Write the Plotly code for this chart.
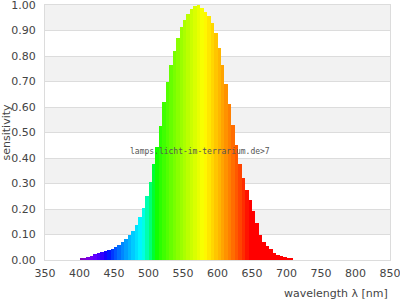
import plotly.graph_objects as go

# wavelength (nm) and relative sensitivity
wavelengths = [400, 405, 410, 415, 420, 425, 430, 435, 440, 445,
               450, 455, 460, 465, 470, 475, 480, 485, 490, 495,
               500, 505, 510, 515, 520, 525, 530, 535, 540, 545,
               550, 555, 560, 565, 570, 575, 580, 585, 590, 595,
               600, 605, 610, 615, 620, 625, 630, 635, 640, 645,
               650, 655, 660, 665, 670, 675, 680, 685, 690, 695,
               700, 705]
sensitivity = [0.004, 0.007, 0.011, 0.017, 0.022, 0.026, 0.030, 0.035, 0.040, 0.045,
               0.051, 0.059, 0.069, 0.082, 0.098, 0.115, 0.138, 0.168, 0.205, 0.250,
               0.305, 0.375, 0.445, 0.525, 0.620, 0.700, 0.765, 0.820, 0.870, 0.912,
               0.942, 0.966, 0.985, 0.997, 1.000, 0.990, 0.972, 0.955, 0.930, 0.890,
               0.830, 0.765, 0.690, 0.610, 0.530, 0.450, 0.375, 0.320, 0.275, 0.235,
               0.192, 0.145, 0.100, 0.072, 0.055, 0.042, 0.029, 0.021, 0.015, 0.010,
               0.007, 0.004]

x_ticks = [350, 400, 450, 500, 550, 600, 650, 700, 750, 800, 850]
y_ticks = [0.0, 0.1, 0.2, 0.3, 0.4, 0.5, 0.6, 0.7, 0.8, 0.9, 1.0]
y_tick_labels = ["0.00", "0.10", "0.20", "0.30", "0.40", "0.50",
                 "0.60", "0.70", "0.80", "0.90", "1.00"]
watermark = "lamps.licht-im-terrarium.de>7"
x_title = "wavelength λ [nm]"
y_title = "sensitivity"


def wl_color(w):
    # spectral colour for a wavelength (style only)
    w = w + 2.5
    if w < 440:
        r, g, b = -(w - 440) / 60.0, 0.0, 1.0
    elif w < 490:
        r, g, b = 0.0, (w - 440) / 50.0, 1.0
    elif w < 510:
        r, g, b = 0.0, 1.0, -(w - 510) / 20.0
    elif w < 580:
        r, g, b = (w - 510) / 70.0, 1.0, 0.0
    elif w < 645:
        r, g, b = 1.0, -(w - 645) / 65.0, 0.0
    else:
        r, g, b = 1.0, 0.0, 0.0
    if w < 420:
        f = 0.3 + 0.7 * (w - 380) / 40.0
    else:
        f = 1.0
    gam = 0.8
    conv = lambda c: int(round(255 * (c * f) ** gam)) if c > 0 else 0
    return "rgb(%d,%d,%d)" % (conv(r), conv(g), conv(b))


colors = [wl_color(w) for w in wavelengths]

fig = go.Figure()
fig.add_trace(go.Bar(
    x=wavelengths, y=sensitivity, width=5, offset=0,
    marker=dict(color=colors, line=dict(width=0)),
    hoverinfo="skip",
))

# alternating background bands
for lo in [0.1, 0.3, 0.5, 0.7, 0.9]:
    fig.add_shape(type="rect", xref="paper", yref="y", x0=0, x1=1, y0=lo, y1=lo + 0.1,
                  fillcolor="#f2f2f2", line=dict(width=0), layer="below")

fig.add_annotation(x=574, y=0.427, text=watermark, showarrow=False,
                   font=dict(family="DejaVu Sans Mono", size=8, color="#555555"))

fig.add_annotation(xref="paper", yref="paper", x=1.0, y=-0.098, xanchor="right",
                   yanchor="top", text=x_title, showarrow=False,
                   font=dict(family="DejaVu Sans", size=11, color="#444444"))

fig.update_layout(
    width=400, height=300,
    margin=dict(l=45, r=10, t=5, b=40),
    paper_bgcolor="white", plot_bgcolor="white",
    showlegend=False, bargap=0,
    font=dict(family="DejaVu Sans", size=11, color="#444444"),
    xaxis=dict(range=[350, 850], tickvals=x_ticks, showgrid=False, zeroline=False,
               showline=True, linecolor="#dcdcdc", linewidth=1, mirror=True,
               ticks="", ticklabeloverflow="allow", ticklabelstandoff=3,
               tickfont=dict(size=11, color="#444444"), automargin=False,
               fixedrange=True),
    yaxis=dict(range=[0, 1], tickvals=y_ticks, ticktext=y_tick_labels,
               showgrid=True, gridcolor="#dcdcdc", gridwidth=1, zeroline=False,
               showline=True, linecolor="#dcdcdc", linewidth=1, mirror=True,
               ticks="", ticklabelstandoff=6, ticklabeloverflow="allow",
               tickfont=dict(size=11, color="#444444"), automargin=False,
               title=dict(text=y_title, font=dict(size=11, color="#444444"),
                          standoff=0),
               fixedrange=True),
)

fig.write_html("out.html")
